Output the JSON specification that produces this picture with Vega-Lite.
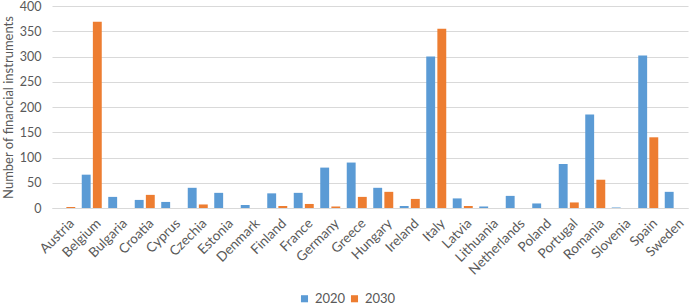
{
  "$schema": "https://vega.github.io/schema/vega-lite/v6.json",
  "width": 636,
  "height": 202,
  "autosize": {"type": "none"},
  "padding": {"left": 52, "right": 2, "top": 6, "bottom": 98},
  "background": "white",
  "config": {
    "font": "Lato",
    "view": {"stroke": null},
    "axis": {"labelColor": "#595959", "titleColor": "#595959", "labelFont": "Lato", "titleFont": "Lato"}
  },
  "data": {
    "values": [
      {"country": "Austria", "year": "2020", "value": 0},
      {"country": "Austria", "year": "2030", "value": 2},
      {"country": "Belgium", "year": "2020", "value": 66},
      {"country": "Belgium", "year": "2030", "value": 369},
      {"country": "Bulgaria", "year": "2020", "value": 22},
      {"country": "Bulgaria", "year": "2030", "value": 0},
      {"country": "Croatia", "year": "2020", "value": 16},
      {"country": "Croatia", "year": "2030", "value": 26},
      {"country": "Cyprus", "year": "2020", "value": 12},
      {"country": "Cyprus", "year": "2030", "value": 0},
      {"country": "Czechia", "year": "2020", "value": 40},
      {"country": "Czechia", "year": "2030", "value": 7},
      {"country": "Estonia", "year": "2020", "value": 30},
      {"country": "Estonia", "year": "2030", "value": 0},
      {"country": "Denmark", "year": "2020", "value": 6},
      {"country": "Denmark", "year": "2030", "value": 0},
      {"country": "Finland", "year": "2020", "value": 29},
      {"country": "Finland", "year": "2030", "value": 4},
      {"country": "France", "year": "2020", "value": 30},
      {"country": "France", "year": "2030", "value": 8},
      {"country": "Germany", "year": "2020", "value": 80},
      {"country": "Germany", "year": "2030", "value": 3},
      {"country": "Greece", "year": "2020", "value": 90},
      {"country": "Greece", "year": "2030", "value": 22},
      {"country": "Hungary", "year": "2020", "value": 40},
      {"country": "Hungary", "year": "2030", "value": 32},
      {"country": "Ireland", "year": "2020", "value": 4},
      {"country": "Ireland", "year": "2030", "value": 18},
      {"country": "Italy", "year": "2020", "value": 300},
      {"country": "Italy", "year": "2030", "value": 355},
      {"country": "Latvia", "year": "2020", "value": 19},
      {"country": "Latvia", "year": "2030", "value": 4},
      {"country": "Lithuania", "year": "2020", "value": 3},
      {"country": "Lithuania", "year": "2030", "value": 0},
      {"country": "Netherlands", "year": "2020", "value": 24},
      {"country": "Netherlands", "year": "2030", "value": 0},
      {"country": "Poland", "year": "2020", "value": 9},
      {"country": "Poland", "year": "2030", "value": 0},
      {"country": "Portugal", "year": "2020", "value": 87},
      {"country": "Portugal", "year": "2030", "value": 11},
      {"country": "Romania", "year": "2020", "value": 185},
      {"country": "Romania", "year": "2030", "value": 56},
      {"country": "Slovenia", "year": "2020", "value": 1},
      {"country": "Slovenia", "year": "2030", "value": 0},
      {"country": "Spain", "year": "2020", "value": 302},
      {"country": "Spain", "year": "2030", "value": 140},
      {"country": "Sweden", "year": "2020", "value": 32},
      {"country": "Sweden", "year": "2030", "value": 0}
    ]
  },
  "mark": {"type": "bar"},
  "encoding": {
    "x": {
      "field": "country",
      "type": "nominal",
      "sort": null,
      "title": null,
      "scale": {"paddingInner": 0.245, "paddingOuter": 0.1225},
      "axis": {
        "labelAngle": -45,
        "labelFontSize": 13.5,
        "labelPadding": 8,
        "labelOffset": 2,
        "ticks": false,
        "domainColor": "#d9d9d9",
        "domainWidth": 1.2,
        "grid": false
      }
    },
    "xOffset": {"field": "year", "type": "nominal", "scale": {"paddingInner": 0.2}},
    "y": {
      "field": "value",
      "type": "quantitative",
      "title": "Number of financial instruments",
      "scale": {"domain": [0, 400]},
      "axis": {
        "values": [0, 50, 100, 150, 200, 250, 300, 350, 400],
        "labelFontSize": 12.5,
        "titleFontSize": 13,
        "titleFontWeight": "normal",
        "titlePadding": 4,
        "domain": false,
        "ticks": false,
        "gridColor": "#d9d9d9",
        "gridWidth": 1.2,
        "labelPadding": 11
      }
    },
    "color": {
      "field": "year",
      "type": "nominal",
      "scale": {"domain": ["2020", "2030"], "range": ["#5B9BD5", "#ED7D31"]},
      "legend": {
        "orient": "none",
        "legendX": 246,
        "legendY": 286,
        "direction": "horizontal",
        "title": null,
        "symbolType": "square",
        "symbolSize": 50,
        "labelFontSize": 13,
        "labelOffset": 4,
        "labelColor": "#595959",
        "columnPadding": 2
      }
    }
  }
}
